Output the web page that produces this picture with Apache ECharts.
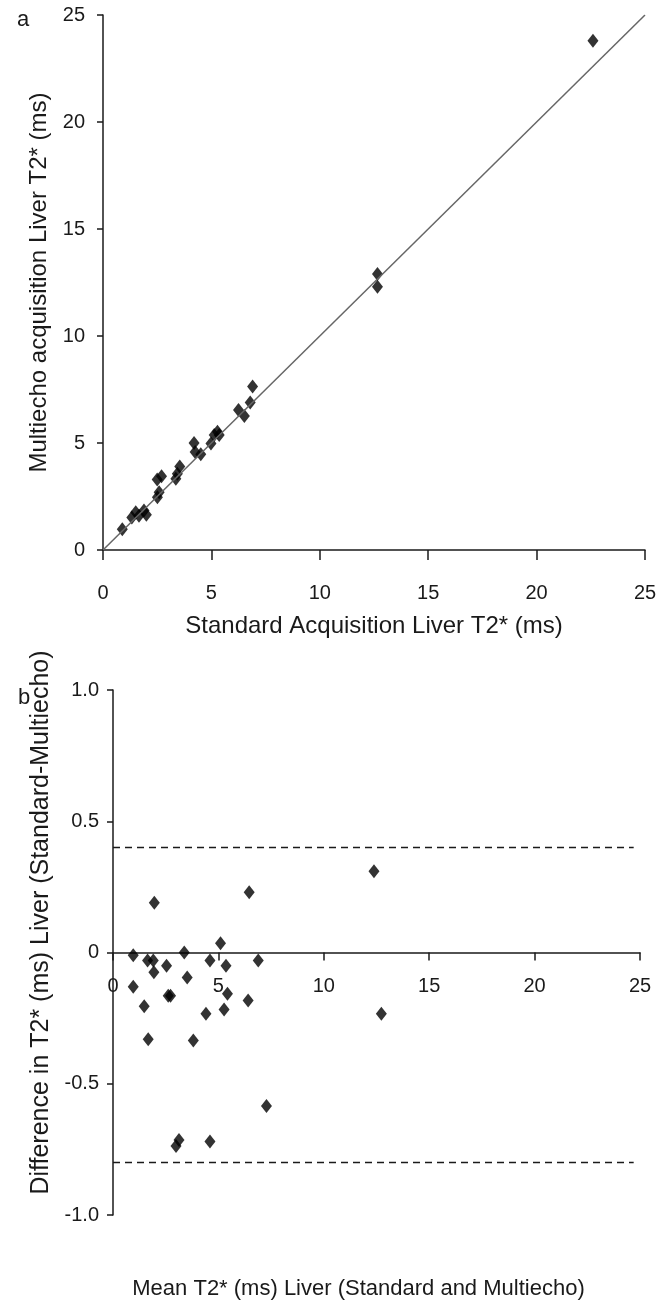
<!DOCTYPE html>
<html>
<head>
  <meta charset="UTF-8" />
  <title>Liver T2* standard vs multiecho</title>
  <script src="https://cdn.jsdelivr.net/npm/echarts/dist/echarts.min.js"></script>
  <style>
    body { margin: 0; background: #fff; }
    #chart { width: 667px; height: 1309px; }
  </style>
</head>
<body>
<div id="chart"></div>
<script>
  // panel a: standard vs multiecho
  const standardT2 = [0.89, 1.33, 1.51, 1.66, 1.89, 2.0, 2.51, 2.59, 2.5, 2.7, 3.36, 3.43, 3.54, 4.2, 4.25, 4.51, 4.98, 5.13, 5.28, 5.36, 6.25, 6.52, 6.79, 6.9, 12.66, 12.66, 22.6];
  const multiechoT2 = [0.97, 1.52, 1.76, 1.6, 1.84, 1.65, 2.46, 2.7, 3.3, 3.45, 3.33, 3.56, 3.9, 5.0, 4.58, 4.47, 4.98, 5.37, 5.52, 5.37, 6.54, 6.26, 6.89, 7.64, 12.9, 12.3, 23.8];
  const identityLine = [0, 25];

  // panel b: Bland-Altman
  const meanT2 = [0.96, 1.96, 1.64, 1.91, 2.54, 1.94, 3.38, 4.6, 5.1, 5.36, 6.46, 6.89, 0.96, 3.52, 2.62, 2.73, 1.48, 5.43, 6.41, 4.41, 5.27, 12.38, 12.73, 1.67, 3.81, 7.28, 2.99, 3.13, 4.6];
  const diffT2 = [-0.01, 0.19, -0.03, -0.03, -0.05, -0.075, 0.0, -0.03, 0.035, -0.05, 0.23, -0.03, -0.13, -0.095, -0.165, -0.165, -0.205, -0.157, -0.183, -0.233, -0.217, 0.31, -0.233, -0.33, -0.335, -0.585, -0.737, -0.714, -0.72];
  const limits = [0.4, -0.8];
  const limitRange = [0, 24.7];

  const font = "Liberation Sans";
  const ink = "#1a1a1a";
  const tickSize = 20;

  const chart = echarts.init(document.getElementById("chart"));

  function axisCommon() {
    return {
      type: "value",
      splitLine: { show: false },
      axisLine: { show: true, lineStyle: { color: ink, width: 1.5 } },
      axisTick: { show: true, length: 7, lineStyle: { color: ink, width: 1.5 } },
      axisLabel: { color: ink, fontFamily: font, fontSize: tickSize },
      nameTextStyle: { color: ink, fontFamily: font, fontSize: 24 },
      nameLocation: "middle"
    };
  }

  const option = {
    animation: false,
    backgroundColor: "#fff",
    title: [
      { text: "a", left: 12, top: 4, textStyle: { fontFamily: font, fontSize: 22, fontWeight: "normal", color: ink } },
      { text: "b", left: 13, top: 682, textStyle: { fontFamily: font, fontSize: 22, fontWeight: "normal", color: ink } }
    ],
    grid: [
      { left: 103, top: 15, width: 542, height: 535, outerBoundsMode: "none" },
      { left: 113, top: 690, width: 527, height: 525, outerBoundsMode: "none" }
    ],
    xAxis: [
      Object.assign(axisCommon(), {
        gridIndex: 0, min: 0, max: 25, interval: 5,
        name: "Standard Acquisition Liver T2* (ms)", nameGap: 64,
        axisTick: { show: true, length: 10, lineStyle: { color: ink, width: 1.5 } },
        axisLabel: { color: ink, fontFamily: font, fontSize: tickSize, margin: 33 }
      }),
      Object.assign(axisCommon(), {
        gridIndex: 1, min: 0, max: 25, interval: 5,
        // axis sits on the zero line of the difference scale
        offset: -262.5,
        name: "Mean T2* (ms) Liver (Standard and Multiecho)", nameGap: 325,
        nameTextStyle: { color: ink, fontFamily: font, fontSize: 22, padding: [0, 36, 0, 0] },
        axisLine: { show: true, onZero: false, lineStyle: { color: ink, width: 1.5 } },
        axisTick: { show: true, length: 8, lineStyle: { color: ink, width: 1.5 } },
        axisLabel: { color: ink, fontFamily: font, fontSize: tickSize, margin: 24 }
      })
    ],
    yAxis: [
      Object.assign(axisCommon(), {
        gridIndex: 0, min: 0, max: 25, interval: 5,
        name: "Multiecho acquisition Liver T2* (ms)", nameGap: 45,
        axisTick: { show: true, length: 6, lineStyle: { color: ink, width: 1.5 } },
        axisLabel: { color: ink, fontFamily: font, fontSize: tickSize, margin: 18 }
      }),
      Object.assign(axisCommon(), {
        gridIndex: 1, min: -1, max: 1, interval: 0.5,
        name: "Difference in T2* (ms) Liver (Standard-Multiecho)", nameGap: 55,
        nameTextStyle: { color: ink, fontFamily: font, fontSize: 25, padding: [0, 0, 0, 60] },
        axisTick: { show: true, length: 6, lineStyle: { color: ink, width: 1.5 } },
        axisLabel: {
          color: ink, fontFamily: font, fontSize: tickSize, margin: 14,
          formatter: v => (v === 0 ? "0" : v.toFixed(1))
        }
      })
    ],
    series: [
      {
        type: "line", xAxisIndex: 0, yAxisIndex: 0,
        data: identityLine.map(v => [v, v]),
        symbol: "none", silent: true,
        lineStyle: { color: "#666", width: 1.5 }
      },
      {
        type: "scatter", xAxisIndex: 0, yAxisIndex: 0,
        data: standardT2.map((x, i) => [x, multiechoT2[i]]),
        symbol: "diamond", symbolSize: [11, 14],
        itemStyle: { color: "#000" }
      },
      ...limits.map(l => ({
        type: "line", xAxisIndex: 1, yAxisIndex: 1,
        data: limitRange.map(x => [x, l]),
        symbol: "none", silent: true,
        lineStyle: { color: ink, width: 1.5, type: [7, 5] }
      })),
      {
        type: "scatter", xAxisIndex: 1, yAxisIndex: 1,
        data: meanT2.map((x, i) => [x, diffT2[i]]),
        symbol: "diamond", symbolSize: [11, 14],
        itemStyle: { color: "#000" }
      }
    ]
  };

  chart.setOption(option);
</script>
</body>
</html>
